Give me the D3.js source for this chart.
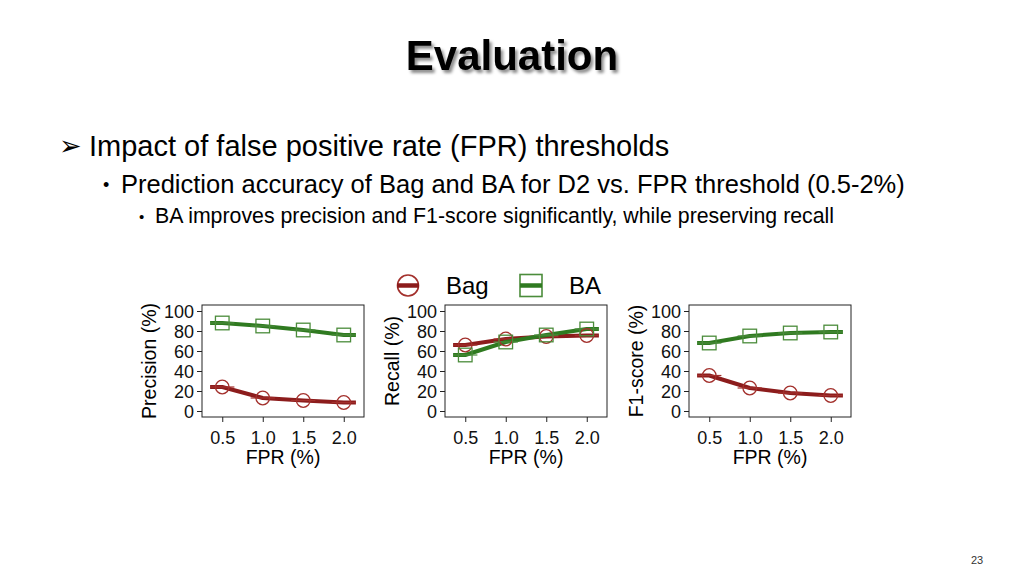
<!DOCTYPE html>
<html>
<head>
<meta charset="utf-8">
<script src="https://cdn.jsdelivr.net/npm/d3@7"></script>
<style>
  html, body { margin: 0; padding: 0; background: #fff; }
  svg { display: block; font-family: "Liberation Sans", Arial, sans-serif; }
</style>
</head>
<body>
<svg id="slide" width="1024" height="576"></svg>
<script>
// values
const fpr = [0.5, 1.0, 1.5, 2.0];
const fprTicks = ["0.5", "1.0", "1.5", "2.0"];
const yTicks = [0, 20, 40, 60, 80, 100];
const metrics = ["Precision (%)", "Recall (%)", "F1-score (%)"];
const bagValues = [
  [24, 13, 10.5, 8.5],
  [66, 72, 74.5, 75.5],
  [35.5, 23, 18, 15.5]
];
const baValues = [
  [88, 85, 81, 76],
  [56, 69, 76, 82],
  [68, 75, 78, 79]
];
const seriesNames = ["Bag", "BA"];

const red = "#8c1c1c", redMark = "#a3302c";
const green = "#2f7a20", greenMark = "#4b8c3b";

let svg = d3.select("#slide");

// title shadow
let defs = svg.append("defs");
let filter = defs.append("filter").attr("id", "shadow")
    .attr("x", "-10%").attr("y", "-30%").attr("width", "130%").attr("height", "170%");
filter.append("feDropShadow")
    .attr("dx", 2.5).attr("dy", 3).attr("stdDeviation", 1.6)
    .attr("flood-color", "#000").attr("flood-opacity", 0.45);

svg.append("text")
    .attr("x", 512).attr("y", 70)
    .attr("text-anchor", "middle")
    .style("font-size", "42px").style("font-weight", "bold")
    .style("filter", "url(#shadow)")
    .text("Evaluation");

// bullets
svg.append("text").attr("x", 59).attr("y", 155)
    .style("font-family", "DejaVu Sans").style("font-size", "27px")
    .text("\u27A2");
svg.append("text").attr("x", 89).attr("y", 156)
    .style("font-size", "29px")
    .text("Impact of false positive rate (FPR) thresholds");
svg.append("text").attr("x", 103).attr("y", 191)
    .style("font-size", "18px")
    .text("\u2022");
svg.append("text").attr("x", 121).attr("y", 193)
    .style("font-size", "25.5px")
    .text("Prediction accuracy of Bag and BA for D2 vs. FPR threshold (0.5-2%)");
svg.append("text").attr("x", 139).attr("y", 222)
    .style("font-size", "15px")
    .text("\u2022");
svg.append("text").attr("x", 155).attr("y", 223)
    .style("font-size", "21.3px")
    .text("BA improves precision and F1-score significantly, while preserving recall");

svg.append("text").attr("x", 977).attr("y", 564)
    .attr("text-anchor", "middle")
    .style("font-size", "11px").style("fill", "#333")
    .text("23");

// legend
let legend = svg.append("g");
legend.append("circle").attr("cx", 408).attr("cy", 285.5).attr("r", 10.5)
    .attr("fill", "none").attr("stroke", redMark).attr("stroke-width", 1.6);
legend.append("line").attr("x1", 397).attr("x2", 419).attr("y1", 285.5).attr("y2", 285.5)
    .attr("stroke", red).attr("stroke-width", 4.5);
legend.append("text").attr("x", 446).attr("y", 294).style("font-size", "24px").text(seriesNames[0]);
legend.append("rect").attr("x", 520).attr("y", 274.5).attr("width", 22).attr("height", 22)
    .attr("fill", "none").attr("stroke", greenMark).attr("stroke-width", 1.6);
legend.append("line").attr("x1", 520).attr("x2", 542).attr("y1", 285.5).attr("y2", 285.5)
    .attr("stroke", green).attr("stroke-width", 4.5);
legend.append("text").attr("x", 569).attr("y", 294).style("font-size", "24px").text(seriesNames[1]);

// panels
const panelLeft = [202, 445, 689];
const panelW = 162, panelTop = 305, panelH = 112;
const halfSeg = 0.15;

function drawPanel(i) {
  let g = svg.append("g").attr("transform", `translate(${panelLeft[i]},${panelTop})`);
  let x = d3.scaleLinear().domain([0.25, 2.25]).range([0, panelW]);
  let y = d3.scaleLinear().domain([-6, 106]).range([panelH, 0]);

  g.append("rect").attr("width", panelW).attr("height", panelH)
      .attr("fill", "none").attr("stroke", "#222").attr("stroke-width", 1);

  let yAxis = g.append("g")
      .call(d3.axisLeft(y).tickValues(yTicks).tickSize(5).tickPadding(3));
  yAxis.select(".domain").remove();
  yAxis.selectAll("text").style("font-size", "18px").style("fill", "#111")
      .attr("font-family", null).attr("dy", "0.36em");
  yAxis.selectAll("line").attr("stroke", "#222");

  let xAxis = g.append("g").attr("transform", `translate(0,${panelH})`)
      .call(d3.axisBottom(x).tickValues(fpr).tickFormat((d, k) => fprTicks[k]).tickSize(5).tickPadding(9));
  xAxis.select(".domain").remove();
  xAxis.selectAll("text").style("font-size", "18px").style("fill", "#111")
      .attr("font-family", null);
  xAxis.selectAll("line").attr("stroke", "#222");

  g.append("text")
      .attr("x", panelW / 2).attr("y", panelH + 47)
      .attr("text-anchor", "middle").style("font-size", "19.5px")
      .text("FPR (%)");
  g.append("text")
      .attr("transform", `translate(-46,${y(50)}) rotate(-90)`)
      .attr("text-anchor", "middle").style("font-size", "19.5px")
      .text(metrics[i]);

  let series = [
    { vals: bagValues[i], line: red, mark: redMark, shape: "circle" },
    { vals: baValues[i], line: green, mark: greenMark, shape: "square" }
  ];

  let line = d3.line().x(d => x(d[0])).y(d => y(d[1]));

  series.forEach(s => {
    let pts = fpr.map((f, k) => [f, s.vals[k]]);
    let ext = [[fpr[0] - halfSeg, s.vals[0]], ...pts, [fpr[fpr.length - 1] + halfSeg, s.vals[s.vals.length - 1]]];
    g.append("path").datum(ext)
        .attr("d", line)
        .attr("fill", "none").attr("stroke", s.line).attr("stroke-width", 4)
        .attr("stroke-linejoin", "round");
    g.selectAll(null).data(pts).enter().append("line")
        .attr("x1", d => x(d[0] - halfSeg)).attr("x2", d => x(d[0] + halfSeg))
        .attr("y1", d => y(d[1])).attr("y2", d => y(d[1]))
        .attr("stroke", s.mark).attr("stroke-width", 1.2);
  });

  series.forEach(s => {
    let pts = fpr.map((f, k) => [f, s.vals[k]]);
    if (s.shape === "circle") {
      g.selectAll(null).data(pts).enter().append("circle")
          .attr("cx", d => x(d[0])).attr("cy", d => y(d[1])).attr("r", 6.8)
          .attr("fill", "none").attr("stroke", s.mark).attr("stroke-width", 1.3);
    } else {
      g.selectAll(null).data(pts).enter().append("rect")
          .attr("x", d => x(d[0]) - 6.8).attr("y", d => y(d[1]) - 6.8)
          .attr("width", 13.6).attr("height", 13.6)
          .attr("fill", "none").attr("stroke", s.mark).attr("stroke-width", 1.3);
    }
  });
}

metrics.forEach((m, i) => drawPanel(i));
</script>
</body>
</html>
